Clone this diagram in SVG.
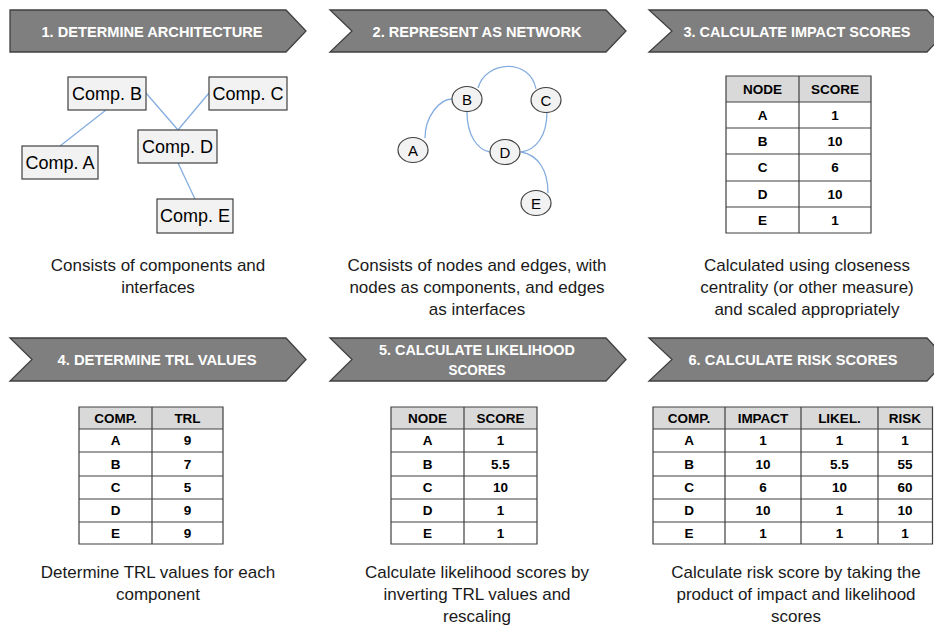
<svg xmlns="http://www.w3.org/2000/svg" width="934" height="625" viewBox="0 0 934 625">
<style>
.ban{fill:#7f7f7f;stroke:#404040;stroke-width:1.3}
.bt{font-family:"Liberation Sans",Arial,sans-serif;font-weight:bold;font-size:15.5px;fill:#fff;text-anchor:middle}
.box{fill:#f2f2f2;stroke:#404040;stroke-width:1.2}
.bl{font-family:"Liberation Sans",Arial,sans-serif;font-size:18px;fill:#000;text-anchor:middle}
.nl{font-family:"Liberation Sans",Arial,sans-serif;font-size:15px;fill:#000;text-anchor:middle}
.edge{fill:none;stroke:#85ade0;stroke-width:1.3}
.cap{font-family:"Liberation Sans",Arial,sans-serif;font-size:17px;fill:#1a1a1a;text-anchor:middle}
.th{fill:#d9d9d9}
.tb{fill:#fff}
.tl{fill:none;stroke:#404040;stroke-width:1.2}
.tt{font-family:"Liberation Sans",Arial,sans-serif;font-weight:bold;font-size:13.5px;fill:#000;text-anchor:middle}
</style>
<rect width="934" height="625" fill="#fff"/>

<!-- Banners -->
<g id="banner1"><polygon class="ban" points="10,10 286,10 306,31 286,52 10,52"/><text class="bt" x="152" y="37" textLength="221" lengthAdjust="spacingAndGlyphs">1. DETERMINE ARCHITECTURE</text></g>
<g id="banner2"><polygon class="ban" points="330,10 606,10 626,31 606,52 330,52 352,31"/><text class="bt" x="477" y="37" textLength="209" lengthAdjust="spacingAndGlyphs">2. REPRESENT AS NETWORK</text></g>
<g id="banner3"><polygon class="ban" points="649,10 927,10 947,31 927,52 649,52 672,31"/><text class="bt" x="797" y="37" textLength="227" lengthAdjust="spacingAndGlyphs">3. CALCULATE IMPACT SCORES</text></g>
<g id="banner4"><polygon class="ban" points="10,338 286,338 306,359.5 286,381 10,381 32,359.5"/><text class="bt" x="157" y="365" textLength="199" lengthAdjust="spacingAndGlyphs">4. DETERMINE TRL VALUES</text></g>
<g id="banner5"><polygon class="ban" points="330,338 606,338 626,359.5 606,381 330,381 352,359.5"/><text class="bt" x="477" y="355" textLength="196" lengthAdjust="spacingAndGlyphs">5. CALCULATE LIKELIHOOD</text><text class="bt" x="477" y="375" textLength="57" lengthAdjust="spacingAndGlyphs">SCORES</text></g>
<g id="banner6"><polygon class="ban" points="649,338 927,338 947,359.5 927,381 649,381 672,359.5"/><text class="bt" x="793" y="365" textLength="209" lengthAdjust="spacingAndGlyphs">6. CALCULATE RISK SCORES</text></g>

<!-- Connectors -->
<g id="connectors">
<line class="edge" x1="106" y1="110" x2="60" y2="146"/>
<line class="edge" x1="146" y1="93" x2="178" y2="130"/>
<line class="edge" x1="209" y1="93" x2="178" y2="130"/>
<line class="edge" x1="178" y1="163" x2="195" y2="199"/>
<path class="edge" d="M478,88 C486,60 530,58 536,89"/>
<path class="edge" d="M425,138 C425,116 440,99 452,99"/>
<path class="edge" d="M467,112 C467,136 478,150 490,152"/>
<path class="edge" d="M547,112 C547,136 536,150 521,152"/>
<path class="edge" d="M521,152 C538,155 548,170 548,193"/>
</g>

<!-- Architecture nodes -->
<g id="compB"><rect class="box" x="68" y="77" width="78" height="33"/><text class="bl" x="107" y="100">Comp. B</text></g>
<g id="compC"><rect class="box" x="209" y="77" width="78" height="33"/><text class="bl" x="248" y="100">Comp. C</text></g>
<g id="compD"><rect class="box" x="138" y="130" width="79" height="33"/><text class="bl" x="177.5" y="153">Comp. D</text></g>
<g id="compA"><rect class="box" x="22" y="146" width="76" height="33"/><text class="bl" x="60" y="169">Comp. A</text></g>
<g id="compE"><rect class="box" x="157" y="199" width="76" height="34"/><text class="bl" x="195" y="222">Comp. E</text></g>

<!-- Network nodes -->
<g id="nodeA"><ellipse class="box" cx="413" cy="150" rx="15" ry="12.5"/><text class="nl" x="413" y="155.5">A</text></g>
<g id="nodeB"><ellipse class="box" cx="467" cy="99" rx="15" ry="12.5"/><text class="nl" x="467" y="104.5">B</text></g>
<g id="nodeC"><ellipse class="box" cx="546" cy="100" rx="15" ry="12.5"/><text class="nl" x="546" y="105.5">C</text></g>
<g id="nodeD"><ellipse class="box" cx="505" cy="152" rx="15" ry="12.5"/><text class="nl" x="505" y="157.5">D</text></g>
<g id="nodeE"><ellipse class="box" cx="536" cy="203" rx="15" ry="12.5"/><text class="nl" x="536" y="208.5">E</text></g>

<!-- Table 3 -->
<g id="table3">
<rect class="th" x="726" y="76" width="145" height="26"/>
<rect class="tb" x="726" y="102" width="145" height="131"/>
<path class="tl" d="M726,76 H871 V233 H726 Z M799,76 V233 M726,102 H871 M726,128 H871 M726,154 H871 M726,181 H871 M726,207 H871"/>
<text class="tt" x="762.5" y="93.5">NODE</text><text class="tt" x="835" y="93.5">SCORE</text>
<text class="tt" x="762.5" y="119.5">A</text><text class="tt" x="835" y="119.5">1</text>
<text class="tt" x="762.5" y="145.5">B</text><text class="tt" x="835" y="145.5">10</text>
<text class="tt" x="762.5" y="172">C</text><text class="tt" x="835" y="172">6</text>
<text class="tt" x="762.5" y="198.5">D</text><text class="tt" x="835" y="198.5">10</text>
<text class="tt" x="762.5" y="224.5">E</text><text class="tt" x="835" y="224.5">1</text>
</g>

<!-- Table 4 -->
<g id="table4">
<rect class="th" x="79" y="407" width="144" height="22"/>
<rect class="tb" x="79" y="429" width="144" height="115"/>
<path class="tl" d="M79,407 H223 V544 H79 Z M152,407 V544 M79,429 H223 M79,452 H223 M79,476 H223 M79,499 H223 M79,522 H223"/>
<text class="tt" x="115.5" y="422.5">COMP.</text><text class="tt" x="187.5" y="422.5">TRL</text>
<text class="tt" x="115.5" y="445">A</text><text class="tt" x="187.5" y="445">9</text>
<text class="tt" x="115.5" y="468.5">B</text><text class="tt" x="187.5" y="468.5">7</text>
<text class="tt" x="115.5" y="492">C</text><text class="tt" x="187.5" y="492">5</text>
<text class="tt" x="115.5" y="515">D</text><text class="tt" x="187.5" y="515">9</text>
<text class="tt" x="115.5" y="537.5">E</text><text class="tt" x="187.5" y="537.5">9</text>
</g>

<!-- Table 5 -->
<g id="table5">
<rect class="th" x="391" y="407" width="146" height="22"/>
<rect class="tb" x="391" y="429" width="146" height="115"/>
<path class="tl" d="M391,407 H537 V544 H391 Z M464,407 V544 M391,429 H537 M391,452 H537 M391,476 H537 M391,499 H537 M391,522 H537"/>
<text class="tt" x="427.5" y="422.5">NODE</text><text class="tt" x="500.5" y="422.5">SCORE</text>
<text class="tt" x="427.5" y="445">A</text><text class="tt" x="500.5" y="445">1</text>
<text class="tt" x="427.5" y="468.5">B</text><text class="tt" x="500.5" y="468.5">5.5</text>
<text class="tt" x="427.5" y="492">C</text><text class="tt" x="500.5" y="492">10</text>
<text class="tt" x="427.5" y="515">D</text><text class="tt" x="500.5" y="515">1</text>
<text class="tt" x="427.5" y="537.5">E</text><text class="tt" x="500.5" y="537.5">1</text>
</g>

<!-- Table 6 -->
<g id="table6">
<rect class="th" x="653" y="407" width="280" height="22"/>
<rect class="tb" x="653" y="429" width="280" height="115"/>
<path class="tl" d="M653,407 H932.5 V544 H653 Z M725,407 V544 M801,407 V544 M878,407 V544 M653,429 H932.5 M653,452 H932.5 M653,476 H932.5 M653,499 H932.5 M653,522 H932.5"/>
<text class="tt" x="689" y="422.5">COMP.</text><text class="tt" x="763" y="422.5">IMPACT</text><text class="tt" x="839.5" y="422.5">LIKEL.</text><text class="tt" x="905" y="422.5">RISK</text>
<text class="tt" x="689" y="445">A</text><text class="tt" x="763" y="445">1</text><text class="tt" x="839.5" y="445">1</text><text class="tt" x="905" y="445">1</text>
<text class="tt" x="689" y="468.5">B</text><text class="tt" x="763" y="468.5">10</text><text class="tt" x="839.5" y="468.5">5.5</text><text class="tt" x="905" y="468.5">55</text>
<text class="tt" x="689" y="492">C</text><text class="tt" x="763" y="492">6</text><text class="tt" x="839.5" y="492">10</text><text class="tt" x="905" y="492">60</text>
<text class="tt" x="689" y="515">D</text><text class="tt" x="763" y="515">10</text><text class="tt" x="839.5" y="515">1</text><text class="tt" x="905" y="515">10</text>
<text class="tt" x="689" y="537.5">E</text><text class="tt" x="763" y="537.5">1</text><text class="tt" x="839.5" y="537.5">1</text><text class="tt" x="905" y="537.5">1</text>
</g>

<!-- Captions -->
<g id="caption1"><text class="cap" x="158" y="271">Consists of components and</text><text class="cap" x="158" y="293">interfaces</text></g>
<g id="caption2"><text class="cap" x="477" y="271">Consists of nodes and edges, with</text><text class="cap" x="477" y="293">nodes as components, and edges</text><text class="cap" x="477" y="315">as interfaces</text></g>
<g id="caption3"><text class="cap" x="807" y="271">Calculated using closeness</text><text class="cap" x="807" y="293">centrality (or other measure)</text><text class="cap" x="807" y="315">and scaled appropriately</text></g>
<g id="caption4"><text class="cap" x="158" y="578">Determine TRL values for each</text><text class="cap" x="158" y="600">component</text></g>
<g id="caption5"><text class="cap" x="477" y="578">Calculate likelihood scores by</text><text class="cap" x="477" y="600">inverting TRL values and</text><text class="cap" x="477" y="622">rescaling</text></g>
<g id="caption6"><text class="cap" x="796" y="578">Calculate risk score by taking the</text><text class="cap" x="796" y="600">product of impact and likelihood</text><text class="cap" x="796" y="622">scores</text></g>
</svg>
